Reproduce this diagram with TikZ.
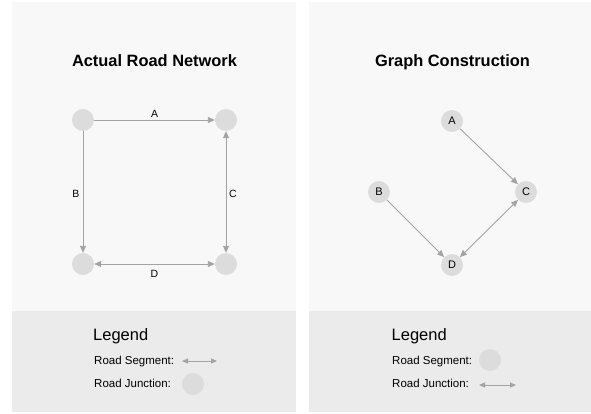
\documentclass[tikz,border=0pt]{standalone}
\usepackage{fontspec}
\setmainfont{Liberation Sans}
\usetikzlibrary{arrows.meta}
\definecolor{panelbg}{HTML}{F8F8F8}
\definecolor{legbg}{HTML}{EBEBEB}
\definecolor{junc}{HTML}{DCDCDC}
\definecolor{seg}{HTML}{A3A3A3}
\begin{document}
\begin{tikzpicture}[x=1pt,y=-1pt,
  junction/.style={circle,fill=junc,minimum size=22pt,inner sep=0pt,font=\fontsize{11}{13}\selectfont},
  road/.style={draw=seg,line width=0.9pt,-{Triangle[length=7pt,width=6pt]}},
  roadboth/.style={draw=seg,line width=0.9pt,{Triangle[length=7pt,width=6pt]}-{Triangle[length=7pt,width=6pt]}},
  legarrow/.style={draw=seg,line width=0.9pt,{Triangle[length=6pt,width=5pt]}-{Triangle[length=6pt,width=5pt]}},
  title/.style={font=\bfseries\fontsize{16.4}{20}\selectfont,anchor=base,inner sep=0pt},
  elabel/.style={font=\fontsize{10.5}{12}\selectfont,anchor=base,inner sep=0pt},
  legtitle/.style={font=\fontsize{16.5}{20}\selectfont,anchor=base west,inner sep=0pt},
  legtext/.style={font=\fontsize{11.5}{14}\selectfont,anchor=base west,inner sep=0pt}]
\useasboundingbox (0,0) rectangle (591,414);
\fill[white] (0,0) rectangle (591,414);
\fill[panelbg] (12,2) rectangle (296,311);
\fill[legbg] (12,311) rectangle (296,412);
\fill[panelbg] (309,2) rectangle (591,311);
\fill[legbg] (309,311) rectangle (591,412);

% Left panel
\node[title] (t1) at (154.5,67) {Actual Road Network};
\node[junction] (tl) at (83,120) {};
\node[junction] (tr) at (226,120) {};
\node[junction] (bl) at (83,264) {};
\node[junction] (br) at (226,264) {};
\draw[road] (tl) -- (tr);
\draw[road] (tl) -- (bl);
\draw[roadboth] (tr) -- (br);
\draw[roadboth] (bl) -- (br);
\node[elabel] (la) at (154.5,117.5) {A};
\node[elabel] (lb) at (76,197) {B};
\node[elabel] (lc) at (233,197) {C};
\node[elabel] (ld) at (154.5,277.5) {D};

% Left legend
\node[legtitle] (lg1) at (93,340) {Legend};
\node[legtext] (ls1) at (94,364.5) {Road Segment:};
\node[legtext] (lj1) at (94,387.5) {Road Junction:};
\coordinate (la1) at (182,361);
\coordinate (la2) at (217,361);
\draw[legarrow] (la1) -- (la2);
\node[junction] (lc1) at (193,384) {};

% Right panel
\node[title] (t2) at (452.5,67) {Graph Construction};
\node[junction] (ga) at (452,121) {A};
\node[junction] (gb) at (379,192) {B};
\node[junction] (gc) at (526,192) {C};
\node[junction] (gd) at (452,265) {D};
\draw[road] (ga) -- (gc);
\draw[road] (gb) -- (gd);
\draw[roadboth] (gc) -- (gd);

% Right legend
\node[legtitle] (lg2) at (391.5,340) {Legend};
\node[legtext] (ls2) at (392,364) {Road Segment:};
\node[legtext] (lj2) at (392,387) {Road Junction:};
\node[junction] (lc2) at (490,360) {};
\coordinate (lb1) at (479,385);
\coordinate (lb2) at (516,385);
\draw[legarrow] (lb1) -- (lb2);
\end{tikzpicture}
\end{document}
